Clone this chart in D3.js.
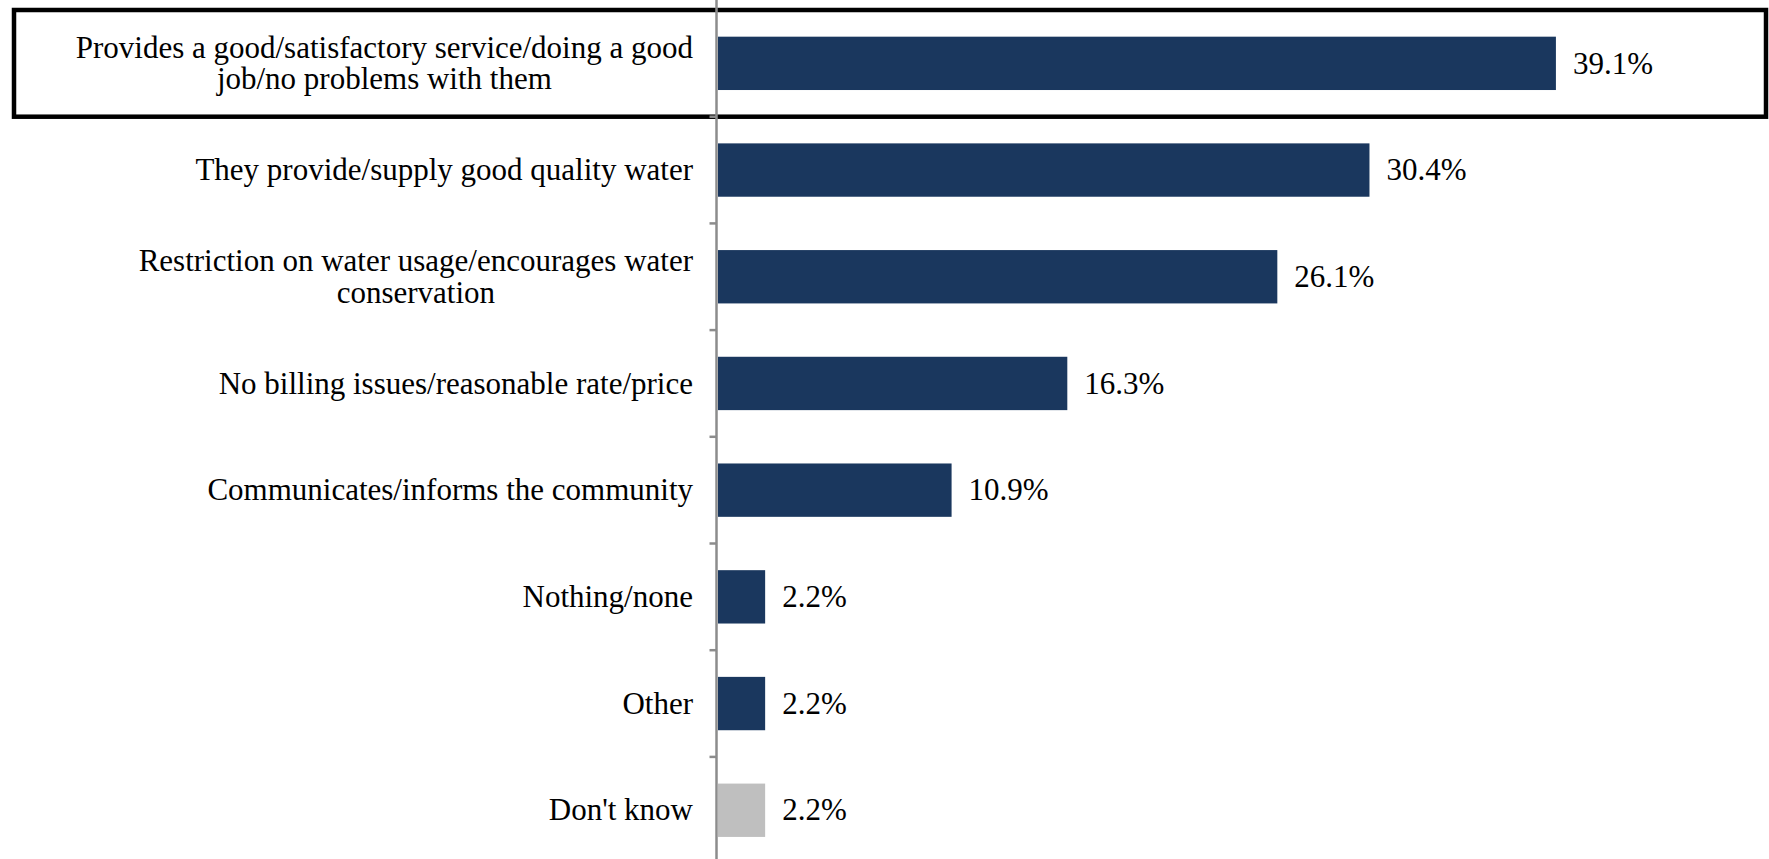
<!DOCTYPE html>
<html>
<head>
<meta charset="utf-8">
<script src="https://cdn.jsdelivr.net/npm/d3@7"></script>
<style>
  html, body { margin: 0; padding: 0; background: #fff; }
  svg { display: block; }
  text { font-family: "Liberation Serif", "Times New Roman", serif; fill: #000; }
</style>
</head>
<body>
<svg id="chart" width="1769" height="859"></svg>
<script>
// ---- data ----
const categories = [
  "Provides a good/satisfactory service/doing a good job/no problems with them",
  "They provide/supply good quality water",
  "Restriction on water usage/encourages water conservation",
  "No billing issues/reasonable rate/price",
  "Communicates/informs the community",
  "Nothing/none",
  "Other",
  "Don't know"
];
const labelLines = [
  ["Provides a good/satisfactory service/doing a good", "job/no problems with them"],
  ["They provide/supply good quality water"],
  ["Restriction on water usage/encourages water", "conservation"],
  ["No billing issues/reasonable rate/price"],
  ["Communicates/informs the community"],
  ["Nothing/none"],
  ["Other"],
  ["Don't know"]
];
const values = [39.1, 30.4, 26.1, 16.3, 10.9, 2.2, 2.2, 2.2];
const highlighted = "Provides a good/satisfactory service/doing a good job/no problems with them";
const neutralCategory = "Don't know";

// ---- layout ----
const W = 1769, H = 859;
const axisX = 716.5;
const fontSize = 31;
const lineGap = 31.5;

const svg = d3.select("#chart");

const x = d3.scaleLinear().domain([0, 40]).range([718, 718 + 40 * 21.43]);
const y = d3.scaleBand().domain(categories).range([10, 10 + 8 * 106.7])
  .paddingInner(0.5).paddingOuter(0.25);
const step = y.step();
const bandStart = i => 10 + i * step;

// highlight box around the first category
const hi = categories.indexOf(highlighted);
svg.append("rect")
  .attr("x", 14).attr("y", bandStart(hi))
  .attr("width", 1766 - 14).attr("height", step)
  .attr("fill", "none").attr("stroke", "#000").attr("stroke-width", 4.5);

// bars
svg.append("g").selectAll("rect").data(categories).join("rect")
  .attr("x", x(0))
  .attr("y", d => y(d))
  .attr("width", (d, i) => x(values[i]) - x(0))
  .attr("height", y.bandwidth())
  .attr("fill", d => d === neutralCategory ? "#BFBFBF" : "#1A375E");

// axis line + ticks
const ax = svg.append("g").attr("stroke", "#8C8C8C");
ax.append("line").attr("x1", axisX).attr("x2", axisX).attr("y1", 0).attr("y2", H)
  .attr("stroke-width", 2.5);
d3.range(1, categories.length).forEach(i => {
  ax.append("line").attr("x1", axisX - 7).attr("x2", axisX)
    .attr("y1", bandStart(i)).attr("y2", bandStart(i)).attr("stroke-width", 2.5);
});

// category labels
const labelRight = 693;
const lg = svg.append("g").attr("font-size", fontSize);
categories.forEach((c, i) => {
  const lines = labelLines[i];
  const cy = y(c) + y.bandwidth() / 2;
  const t = lg.append("text").attr("text-anchor", "middle");
  const spans = lines.map((ln, j) => t.append("tspan").text(ln));
  const widths = spans.map(s => s.node().getComputedTextLength());
  const maxW = d3.max(widths);
  const cx = labelRight - maxW / 2;
  const n = lines.length;
  spans.forEach((s, j) => {
    s.attr("x", cx).attr("y", cy + (j - (n - 1) / 2) * lineGap + fontSize * 0.33);
  });
});

// value labels
svg.append("g").attr("font-size", fontSize).selectAll("text").data(categories).join("text")
  .attr("x", (d, i) => x(values[i]) + 17)
  .attr("y", d => y(d) + y.bandwidth() / 2 + fontSize * 0.33)
  .text((d, i) => values[i].toFixed(1) + "%");
</script>
</body>
</html>
